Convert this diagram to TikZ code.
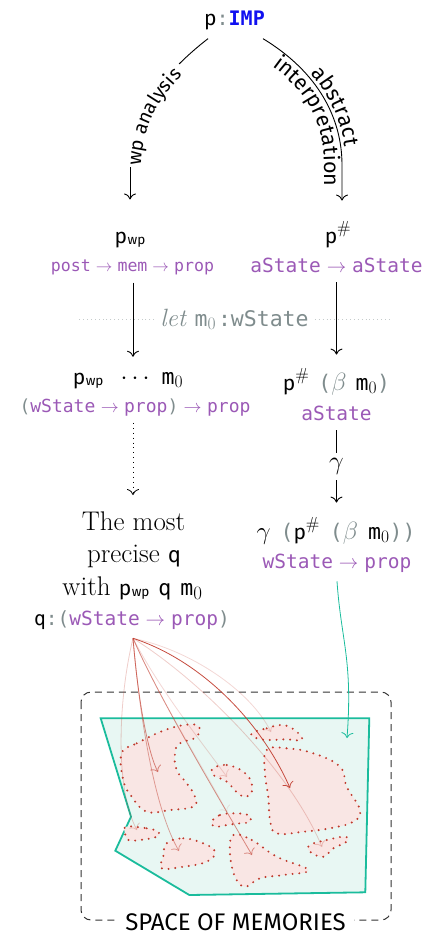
\documentclass[tikz,border=0pt]{standalone}
\usepackage{fix-cm}
\usepackage{fontspec}
\setsansfont{Fira Sans}
\setmonofont{DejaVu Sans Mono}
\usetikzlibrary{arrows.meta,decorations.text}
\definecolor{cpurple}{HTML}{9B59B6}
\definecolor{cgray}{HTML}{7F8C8D}
\definecolor{cteal}{HTML}{1ABC9C}
\definecolor{cred}{HTML}{C0392B}
\definecolor{cblue}{HTML}{1010F0}
\definecolor{tealfill}{HTML}{E8F7F3}
\definecolor{blobfill}{HTML}{F9E6E4}
\definecolor{dotgray}{HTML}{C5CBCB}
\definecolor{boxgray}{HTML}{333333}
\newcommand\myP{{\sffamily\fontsize{21}{25}\selectfont p}}
\newcommand\myPwp{{\sffamily\fontsize{21}{25}\selectfont p\kern.5pt\raisebox{-1.5pt}{\fontsize{13.5}{15}\selectfont wp}}}
\newcommand\myPsh{\myP$^{\#}$}
\newcommand\myMz{{\ttfamily\fontsize{21.5}{25}\selectfont m}$_0$}
\newcommand\myTq{{\ttfamily\fontsize{21.5}{25}\selectfont q}}
\newcommand\myLp{{\ttfamily\fontsize{21.5}{25}\selectfont\color{cgray}(}}
\newcommand\myRp{{\ttfamily\fontsize{21.5}{25}\selectfont\color{cgray})}}
\newcommand\myArr{\hspace{.3em}$\to$\hspace{.3em}}
\tikzset{
  txt/.style={inner sep=0pt, anchor=base, font=\fontsize{25}{30}\selectfont},
  big/.style={inner sep=0pt, anchor=base, font=\fontsize{27}{32}\selectfont},
  ty/.style={inner sep=0pt, anchor=base, text=cpurple, font=\ttfamily\fontsize{19.5}{24}\selectfont},
  arr/.style={line width=0.9pt, -{Computer Modern Rightarrow[length=6pt,width=12pt]}},
  rarr/.style={line width=0.8pt, draw=cred, draw opacity=#1, -{Computer Modern Rightarrow[length=5.5pt,width=12pt]}},
  blob/.style={fill=blobfill, draw=cred, line width=2.2pt, line cap=round, dash pattern=on 0pt off 6.8pt}
}
\begin{document}
\begin{tikzpicture}[x=1pt, y=-1pt]
\useasboundingbox (0,0) rectangle (438,935);

% ---------- nodes ----------
\node[txt] (pimp) at (234.5,25) {\myP{\ttfamily\fontsize{20}{24}\selectfont\color{cgray}:\color{cblue}\bfseries IMP}};
\node[txt] (pwp) at (130,243) {\myPwp};
\node[ty, font=\ttfamily\fontsize{16.6}{20}\selectfont] (pwpT) at (132.5,271) {post\myArr mem\myArr prop};
\node[txt] (psh) at (338,243) {\myPsh};
\node[ty] (pshT) at (336.5,272) {aState\myArr aState};
\node[txt, text=cgray] (letn) at (234.5,326) {\textit{let} {\ttfamily\fontsize{21.5}{25}\selectfont m}$_0$\hspace{2pt}{\ttfamily\fontsize{21.5}{25}\selectfont :wState}};
\node[txt] (app) at (128,384) {\myPwp\hspace{17pt}$\cdots$\hspace{12pt}\myMz};
\node[ty, font=\ttfamily\fontsize{18}{22}\selectfont] (appT) at (135,412) {{\color{cgray}(}wState\myArr prop{\color{cgray})}\myArr prop};
\node[txt] (abs) at (336.5,390) {\myPsh\hspace{9pt}\myLp{\color{cgray}$\beta$}\hspace{9pt}\myMz\myRp};
\node[ty] (absT) at (336.5,420) {aState};
\node[txt] (conc) at (336,539) {$\gamma$\hspace{10pt}\myLp\myPsh\hspace{10pt}\myLp{\color{cgray}$\beta$}\hspace{10pt}\myMz\myRp\myRp};
\node[ty] (concT) at (337,568) {wState\myArr prop};
\node[big] (most1) at (133.5,530) {The most};
\node[big] (most2) at (134,562) {precise \myTq};
\node[big] (most3) at (132.5,595) {with \myPwp\hspace{9pt}\myTq\hspace{9pt}\myMz};
\node[ty] (qT) at (132,625) {{\color{black}q}{\color{cgray}:(}wState\myArr prop{\color{cgray})}};

% ---------- let line ----------
\draw[dotgray, line width=0.9pt, dash pattern=on 0.9pt off 3pt] ([xshift=-6pt]letn.west) -- ++(-75,0);
\draw[dotgray, line width=0.9pt, dash pattern=on 0.9pt off 3pt] ([xshift=6pt]letn.east) -- ++(75,0);

% ---------- top curves ----------
\coordinate (lA) at (130,167);
\coordinate (lB) at (179.1,64.0);
\draw[line width=0.9pt] ([xshift=-26.5pt,yshift=-9pt]pimp.south) .. controls (197.4,46.9) and (187.8,55.3) .. (lB);
\draw[arr] (lA) -- ([yshift=32pt]pwp.north);
\path[decorate, decoration={text along path, text={|\sffamily\fontsize{19.5}{24}\selectfont|wp analysis}, text align={left indent=1pt}}]
  (141,167) .. controls (141,120) and (166.6,83.8) .. (214.6,47.8);

\draw[arr] ([xshift=28.5pt,yshift=-9pt]pimp.south) .. controls (318,72) and (342,118) .. (342,165) -- ([xshift=4pt,yshift=21pt]psh.north);
\path[decorate, decoration={text along path, text={|\sffamily\fontsize{21.5}{25}\selectfont|abstract}, text align={left indent=58pt}, raise=4pt}]
  (263,39) .. controls (318,72) and (342,118) .. (342,165) -- (342,200);
\path[decorate, decoration={text along path, text={|\sffamily\fontsize{21.5}{25}\selectfont|interpretation}, text align={left indent=22pt}}]
  (253.7,54.4) .. controls (305.3,84.7) and (324,118) .. (324,165) -- (324,210);

% ---------- vertical arrows ----------
\draw[arr] ([xshift=0.5pt,yshift=-8pt]pwpT.south) -- ([xshift=5pt,yshift=15pt]app.north);
\draw[arr] ([yshift=-10pt]pshT.south) -- ([yshift=14pt]abs.north);
\draw[arr] ([yshift=-10pt]absT.south) -- node[fill=white, inner sep=5pt, font=\fontsize{26}{30}\selectfont]{$\gamma$} ([xshift=0.5pt,yshift=15pt]conc.north);
\draw[line width=0.8pt, dash pattern=on 0.9pt off 4pt, -{Computer Modern Rightarrow[length=6pt,width=12pt]}] ([xshift=-2pt,yshift=-7pt]appT.south) -- ([xshift=-0.5pt,yshift=16pt]most1.north);

% ---------- space of memories ----------
\draw[boxgray, line width=1pt, dash pattern=on 7pt off 5pt, rounded corners=10pt] (81,692) rectangle (391,920);
\draw[line width=1.8pt, draw=cteal, fill=tealfill] (100.7,718.3) -- (369.3,718.3) -- (365.3,892.3) -- (189.3,895) -- (115.3,850.7) -- (131,816.7) -- cycle;

\draw[blob] plot[smooth cycle, tension=0.7] coordinates {(121.7,753.3) (136.7,743.3) (170,728.3) (196.7,725) (196.7,736.7) (180,743.3) (175,753.3) (176.7,770) (186.7,783.3) (195,796.7) (193.3,806.7) (170,810) (146.7,811.7) (131.7,796.7) (123.3,780)};
\draw[blob] plot[smooth cycle, tension=0.7] coordinates {(251.7,733.3) (266.7,728.3) (283.3,725) (296.7,731.7) (301.7,740) (286.7,739.3) (270,740) (256.7,738.3)};
\draw[blob] plot[smooth cycle, tension=0.7] coordinates {(266.7,750) (286.7,748.3) (313.3,753.3) (340,766.7) (346.7,786.7) (360,810) (353.3,821.7) (330,828.3) (303.3,831.7) (276.7,833.3) (270,820) (268.3,796.7) (265,773.3)};
\draw[blob] plot[smooth cycle, tension=0.7] coordinates {(213.3,768.3) (226.7,765) (243.3,771.7) (251.7,783.3) (250,795) (240,795) (226.7,781.7) (213.3,775)};
\draw[blob] plot[smooth cycle, tension=0.7] coordinates {(211.7,821.7) (220,815) (233.3,813.3) (248.3,815) (250,821.7) (240,823.3) (226.7,825) (215,826.7)};
\draw[blob] plot[smooth cycle, tension=0.7] coordinates {(233.3,835) (251.7,840) (276.7,856.7) (308.3,870) (283.3,875) (260,878.3) (245,886.7) (235,876.7) (230,853.3)};
\draw[blob] plot[smooth cycle, tension=0.7] coordinates {(126.7,826.7) (146.7,828.3) (158.3,831.7) (156.7,836.7) (140,840) (128.3,840) (125,833.3)};
\draw[blob] plot[smooth cycle, tension=0.7] coordinates {(166.7,843.3) (183.3,838.3) (203.3,843.3) (215,851.7) (206.7,861.7) (183.3,866.7) (161.7,868.3) (163.3,856.7)};
\draw[blob] plot[smooth cycle, tension=0.7] coordinates {(310,845) (326.7,840) (345,836.7) (346.7,841.7) (333.3,848.3) (323.3,856.7) (310,851.7)};

\node[fill=white, inner xsep=8pt, inner ysep=3pt, anchor=base, font=\sffamily\fontsize{24}{28}\selectfont] (space) at (235.5,930) {SPACE OF MEMORIES};

% ---------- red arrows ----------
\coordinate (src) at ([xshift=1pt,yshift=-9pt]qT.south);
\coordinate (t1) at (158,772);
\coordinate (t2) at (137,830);
\coordinate (t3) at (179,851);
\coordinate (t4) at (227,777);
\coordinate (t5) at (252,855);
\coordinate (t6) at (271,732);
\coordinate (t7) at (290,788);
\coordinate (t8) at (322,847);
\coordinate (t9) at (227,812);
\draw[rarr=0.25] (src) .. controls (118,700) and (115,790) .. (t2);
\draw[rarr=0.12] (src) .. controls (160,700) and (205,770) .. (t9);
\draw[rarr=0.2] (src) .. controls (160,690) and (200,740) .. (t4);
\draw[rarr=0.2] (src) .. controls (190,650) and (250,690) .. (t6);
\draw[rarr=0.25] (src) .. controls (200,680) and (290,770) .. (t8);
\draw[rarr=0.45] (src) .. controls (140,720) and (155,810) .. (t3);
\draw[rarr=0.6] (src) .. controls (138,700) and (148,753) .. (t1);
\draw[rarr=0.55] (src) .. controls (160,700) and (220,800) .. (t5);
\draw[rarr=0.9] (src) .. controls (200,660) and (260,720) .. (t7);

% ---------- teal arrow ----------
\coordinate (memtip) at (347,738);
\draw[line width=0.8pt, draw=cteal, -{Computer Modern Rightarrow[length=5.5pt,width=12pt]}] ([yshift=-9pt]concT.south) .. controls (341,640) and (353,660) .. (memtip);
\end{tikzpicture}
\end{document}
